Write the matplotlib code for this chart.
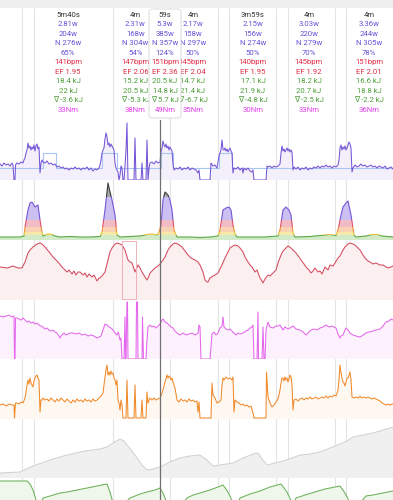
"""
Interval ride view: interval cards on top, stacked activity streams below
"""
import numpy as np
import matplotlib.pyplot as plt
from matplotlib.patches import FancyBboxPatch, Rectangle

plt.rcParams['font.family'] = ['Roboto', 'DejaVu Sans']

# time axis is in 20 s steps (3 per minute), whole ride = 0..393
T_END = 393

# interval cards (the 59s one is the raised popup under the cursor)
card_x = [68, 135.5, 165, 193, 253, 309, 369]
card_duration = ['5m40s', '4m', '59s', '4m', '3m59s', '4m', '4m']
card_wkg = ['2.81w', '2.31w', '5.3w', '2.17w', '2.15w', '3.03w', '3.36w']
card_watts = ['204w', '168w', '385w', '158w', '156w', '220w', '244w']
card_np = ['N 276w', 'N 304w', 'N 357w', 'N 297w', 'N 274w', 'N 279w', 'N 305w']
card_pct = ['65%', '54%', '124%', '50%', '50%', '70%', '78%']
card_hr = ['141bpm', '147bpm', '151bpm', '145bpm', '140bpm', '145bpm', '151bpm']
card_ef = ['EF 1.95', 'EF 2.06', 'EF 2.36', 'EF 2.04', 'EF 1.95', 'EF 1.92', 'EF 2.01']
card_work = ['18.4 kJ', '15.2 kJ', '20.5 kJ', '14.7 kJ', '17.1 kJ', '18.2 kJ', '16.6 kJ']
card_work2 = ['22 kJ', '20.5 kJ', '14.8 kJ', '21.4 kJ', '21.9 kJ', '20.7 kJ', '18.8 kJ']
card_delta = ['∇ -3.6 kJ', '∇ -5.3 kJ', '∇ 5.7 kJ', '∇ -6.7 kJ', '∇ -4.8 kJ', '∇ -2.5 kJ', '∇ -2.2 kJ']
card_torque = ['33Nm', '38Nm', '49Nm', '35Nm', '30Nm', '33Nm', '36Nm']
popup_idx = 2

interval_lines = [22, 34, 113, 170, 218, 229, 276, 288, 335, 346]
cursor_t = 160
selection = (122, 136)

power = [(0, 160), (2, 140), (4, 170), (6, 150), (8, 160), (10, 140), (12, 170), (13, 150), (14, 0), (15, 0),
         (15.5, 150), (17, 170), (19, 160), (21, 180), (23, 170), (24, 200), (25, 220), (26, 270), (27, 300),
         (28, 370), (29, 320), (30, 340), (31, 300), (32, 330), (33, 310), (34, 350), (35, 290), (36, 340),
         (37, 360), (38, 310), (39, 330), (40, 70), (41, 170), (42, 200), (43, 180), (45, 170), (47, 190),
         (49, 160), (51, 170), (53, 150), (55, 160), (57, 130), (59, 140), (61, 120), (63, 130), (65, 110),
         (67, 120), (69, 100), (71, 120), (73, 110), (75, 130), (77, 110), (79, 120), (81, 100), (83, 120),
         (85, 110), (87, 130), (89, 100), (91, 120), (93, 90), (95, 110), (97, 100), (99, 120), (100, 150),
         (101, 200), (102, 270), (103, 300), (104, 320), (105, 410), (106, 470), (107, 430), (108, 350),
         (109, 370), (110, 330), (111, 360), (112, 340), (113, 320), (114, 300), (115, 170), (116, 120),
         (117, 100), (118, 80), (119, 0), (120, 50), (121, 140), (122, 120), (123, 0), (124, 0), (125, 140),
         (126, 300), (127, 570), (128, 0), (134, 0), (135, 420), (136, 0), (141, 0), (142, 170), (143, 0),
         (146, 0), (147, 400), (148, 0), (149, 120), (150, 170), (152, 180), (154, 160), (156, 190), (158, 170),
         (160, 180), (161, 280), (162, 320), (163, 390), (164, 350), (165, 330), (166, 360), (167, 320),
         (168, 340), (169, 300), (170, 330), (171, 310), (172, 290), (173, 160), (174, 100), (176, 120),
         (178, 110), (180, 130), (182, 100), (184, 120), (186, 110), (188, 130), (190, 100), (192, 120),
         (194, 110), (196, 100), (198, 70), (199, 100), (200, 0), (210, 0), (211, 170), (213, 140), (215, 150),
         (217, 120), (219, 240), (220, 270), (221, 300), (222, 400), (223, 310), (224, 300), (225, 320),
         (226, 290), (227, 310), (228, 280), (229, 300), (230, 320), (231, 290), (232, 270), (233, 70),
         (234, 120), (236, 110), (238, 130), (240, 100), (242, 120), (243, 70), (244, 120), (246, 100),
         (248, 120), (250, 90), (252, 80), (253, 100), (254, 0), (266, 0), (267, 140), (268, 130), (270, 140),
         (272, 120), (274, 140), (276, 130), (278, 140), (280, 160), (281, 270), (282, 340), (283, 290),
         (284, 310), (285, 280), (286, 300), (287, 320), (288, 290), (289, 310), (290, 280), (291, 300),
         (292, 280), (293, 100), (294, 130), (296, 110), (298, 130), (300, 100), (302, 120), (304, 110),
         (306, 130), (308, 100), (310, 120), (312, 110), (314, 130), (316, 120), (318, 140), (320, 120),
         (322, 140), (324, 130), (326, 150), (328, 130), (330, 140), (332, 120), (334, 140), (336, 130),
         (338, 150), (339, 200), (340, 320), (341, 350), (342, 300), (343, 330), (344, 310), (345, 340),
         (346, 300), (347, 320), (348, 350), (349, 380), (350, 360), (351, 320), (352, 80), (353, 120),
         (355, 150), (357, 130), (359, 140), (361, 160), (363, 140), (365, 150), (367, 130), (369, 140),
         (371, 150), (373, 130), (375, 140), (377, 120), (379, 140), (381, 130), (383, 120), (385, 140),
         (387, 110), (389, 120), (391, 130), (393, 110)]

# planned target steps
target_t = [0, 43, 56, 102, 117, 161, 173, 219, 232, 393]
target_w = [120, 270, 120, 270, 120, 270, 120, 270, 120, 120]

# smoothed power, coloured by zone
zone_power = [(0, 30), (10, 30), (20, 30), (24, 40), (25, 130), (28, 300), (30, 370), (32, 380), (35, 330),
              (38, 350), (40, 200), (42, 80), (43, 40), (45, 50), (48, 60), (52, 55), (55, 40), (60, 30),
              (70, 35), (80, 30), (90, 30), (100, 35), (102, 80), (105, 300), (108, 570), (110, 480), (112, 400),
              (115, 250), (117, 50), (120, 30), (130, 35), (140, 40), (147, 55), (152, 60), (157, 50), (159, 80),
              (161, 150), (163, 400), (165, 480), (168, 450), (170, 400), (172, 300), (174, 100), (177, 30),
              (190, 30), (200, 25), (210, 30), (218, 40), (220, 100), (223, 300), (226, 320), (229, 330),
              (231, 300), (233, 150), (235, 60), (237, 30), (250, 30), (265, 30), (278, 40), (280, 100),
              (283, 300), (286, 330), (289, 300), (291, 250), (293, 70), (295, 30), (310, 35), (320, 45),
              (330, 55), (336, 45), (338, 100), (341, 250), (343, 330), (346, 370), (348, 390), (350, 300),
              (351, 250), (354, 50), (356, 30), (366, 40), (372, 55), (378, 55), (382, 40), (393, 30)]
zone_edges = [0, 50, 80, 130, 200, 430, 600]
zone_fill = ['#d3eac8', '#f7e7a8', '#f8d2b2', '#f2bcc6', '#cbc0f2', '#a8a8a8']
zone_line = ['#5aa845', '#e6c030', '#f0913a', '#e0506a', '#7656d8', '#3c3c3c']

hr = [(0, 126), (7, 124), (13, 128), (18, 124), (22, 124), (25, 136), (28, 154), (30, 160), (33, 166),
      (37, 172), (40, 174), (42, 172), (45, 166), (50, 154), (53, 146), (58, 136), (62, 126), (65, 120),
      (67, 116), (69, 120), (72, 112), (74, 118), (76, 110), (78, 116), (80, 116), (83, 110), (85, 114),
      (87, 106), (89, 112), (92, 106), (94, 110), (97, 98), (99, 104), (100, 104), (102, 108), (105, 116),
      (108, 140), (110, 156), (112, 164), (115, 172), (117, 174), (120, 172), (122, 170), (125, 160),
      (128, 140), (130, 136), (132, 134), (135, 116), (138, 130), (140, 124), (142, 116), (145, 106),
      (147, 100), (149, 108), (150, 114), (153, 120), (155, 124), (158, 128), (160, 132), (163, 140),
      (165, 146), (168, 160), (170, 166), (173, 172), (175, 174), (178, 172), (182, 166), (185, 158),
      (188, 150), (191, 144), (195, 140), (198, 136), (200, 130), (203, 116), (205, 100), (207, 96),
      (208, 96), (210, 104), (213, 108), (215, 110), (218, 114), (221, 126), (225, 144), (228, 156),
      (230, 164), (233, 168), (235, 170), (238, 168), (240, 164), (243, 156), (245, 146), (248, 136),
      (250, 130), (252, 126), (255, 116), (257, 120), (260, 104), (262, 98), (263, 94), (265, 102),
      (268, 110), (270, 108), (273, 114), (276, 120), (278, 134), (281, 150), (283, 158), (286, 164),
      (288, 168), (291, 164), (293, 160), (296, 154), (299, 146), (301, 140), (304, 132), (306, 126),
      (309, 120), (311, 114), (313, 118), (315, 124), (318, 116), (320, 118), (322, 112), (325, 126),
      (328, 120), (330, 130), (333, 128), (335, 134), (338, 144), (340, 148), (343, 160), (345, 166),
      (348, 172), (350, 174), (353, 172), (355, 170), (358, 164), (360, 160), (363, 150), (365, 144),
      (368, 138), (370, 136), (373, 132), (376, 134), (380, 130), (383, 130), (386, 126), (388, 124),
      (391, 126), (393, 128)]

torque = [(0, 43), (3, 42), (6, 43), (9, 44), (12, 42), (14, 43), (14.5, 0), (15, 0), (15.5, 41), (17, 41),
          (19, 40), (21, 39), (23, 41), (25, 39), (27, 37), (29, 38), (31, 36), (33, 37), (35, 35), (37, 36),
          (39, 34), (41, 33), (43, 32), (45, 30), (47, 31), (49, 29), (51, 28), (53, 29), (55, 27), (57, 26),
          (59, 23), (60, 21), (62, 24), (64, 26), (66, 24), (68, 25), (70, 26), (73, 26), (76, 25), (79, 26),
          (82, 24), (85, 25), (88, 23), (91, 24), (94, 23), (97, 21), (99, 22), (101, 23), (103, 29), (105, 35),
          (107, 34), (109, 32), (111, 31), (113, 29), (115, 26), (117, 24), (118, 27), (119, 24), (120, 19),
          (121, 21), (122, 0), (124, 0), (125, 42), (125.5, 0), (126, 0), (127, 57), (127.5, 57), (128, 0),
          (136, 0), (136.5, 57), (137.5, 57), (138, 0), (142, 0), (142.5, 42), (143.5, 0), (146, 0), (147, 19),
          (148, 32), (150, 34), (152, 32), (154, 33), (156, 31), (158, 33), (160, 35), (162, 39), (163, 40),
          (165, 37), (167, 36), (169, 34), (171, 32), (173, 31), (175, 28), (177, 26), (180, 24), (183, 26),
          (186, 24), (189, 25), (192, 26), (195, 24), (197, 25), (198, 26), (199, 34), (200, 32), (201, 0),
          (210, 0), (211, 12), (212, 25), (214, 27), (216, 24), (218, 26), (220, 31), (222, 33), (223, 42),
          (224, 32), (226, 30), (228, 29), (230, 30), (232, 28), (234, 26), (236, 24), (238, 26), (240, 25),
          (243, 26), (246, 28), (248, 29), (250, 31), (252, 32), (253, 34), (254, 0), (257, 0), (258, 47),
          (258.5, 0), (262, 0), (263, 32), (264, 0), (265, 0), (266, 29), (268, 37), (270, 32), (273, 31),
          (276, 33), (278, 33), (280, 34), (283, 29), (285, 32), (288, 30), (290, 31), (293, 33), (296, 30),
          (300, 29), (303, 27), (306, 24), (309, 27), (311, 29), (314, 30), (317, 29), (320, 31), (323, 32),
          (326, 34), (329, 32), (332, 33), (334, 32), (336, 31), (338, 25), (340, 21), (341, 23), (343, 24),
          (345, 29), (346, 31), (348, 29), (350, 26), (353, 24), (356, 23), (360, 22), (363, 24), (366, 26),
          (369, 27), (373, 28), (376, 29), (380, 30), (383, 33), (386, 37), (389, 38), (391, 40), (393, 39)]

speed = [(0, 14), (3, 15), (6, 13), (9, 15), (12, 14), (14, 14), (14.5, 1), (15.5, 16), (17, 16), (19, 15),
         (21, 17), (23, 16), (25, 21), (26, 27), (27, 34), (28, 39), (29, 35), (30, 41), (31, 36), (32, 34),
         (33, 32), (34, 38), (35, 41), (36, 43), (37, 44), (38, 41), (39, 39), (40, 7), (41, 19), (42, 19),
         (43, 21), (45, 19), (47, 20), (49, 18), (51, 21), (53, 19), (55, 17), (57, 20), (59, 18), (61, 21),
         (63, 19), (65, 17), (67, 20), (69, 18), (71, 16), (73, 19), (75, 17), (77, 20), (79, 18), (81, 19),
         (83, 17), (85, 20), (87, 18), (89, 19), (91, 17), (93, 20), (95, 18), (97, 19), (99, 21), (101, 23),
         (103, 26), (104, 34), (105, 42), (106, 49), (107, 54), (108, 44), (109, 47), (110, 44), (111, 48),
         (112, 45), (113, 46), (114, 41), (115, 39), (116, 34), (117, 39), (118, 19), (119, 16), (120, 9),
         (121, 19), (122, 14), (123, 1), (126, 1), (127, 39), (128, 1), (134, 1), (135, 34), (136, 1),
         (141, 1), (142, 19), (143, 1), (146, 1), (147, 27), (148, 16), (150, 21), (152, 19), (154, 21),
         (156, 19), (158, 20), (160, 21), (162, 26), (163, 29), (165, 37), (167, 44), (168, 41), (169, 43),
         (170, 42), (171, 39), (172, 41), (173, 37), (175, 31), (177, 19), (179, 17), (181, 20), (183, 18),
         (185, 19), (187, 17), (189, 20), (191, 18), (193, 19), (195, 17), (197, 18), (198, 7), (199, 17),
         (200, 1), (211, 1), (212, 36), (213, 24), (215, 21), (217, 16), (219, 17), (221, 19), (222, 34),
         (223, 41), (224, 39), (226, 42), (228, 40), (230, 41), (232, 39), (233, 42), (234, 7), (235, 19),
         (237, 17), (239, 16), (241, 14), (243, 15), (245, 13), (247, 14), (249, 12), (251, 13), (253, 6),
         (254, 1), (266, 1), (266.5, 47), (268, 22), (270, 16), (272, 12), (274, 14), (276, 17), (278, 20),
         (280, 29), (281, 36), (282, 41), (283, 41), (284, 38), (285, 42), (286, 39), (287, 41), (288, 37),
         (289, 40), (290, 44), (291, 42), (292, 34), (293, 9), (294, 19), (296, 20), (298, 18), (300, 20),
         (302, 21), (304, 19), (306, 21), (308, 20), (310, 22), (312, 20), (314, 21), (316, 22), (318, 20),
         (320, 21), (322, 22), (324, 21), (326, 23), (328, 21), (330, 23), (332, 22), (334, 24), (336, 23),
         (338, 29), (339, 39), (340, 54), (341, 46), (342, 41), (343, 37), (344, 36), (345, 33), (346, 37),
         (347, 41), (348, 41), (349, 44), (350, 47), (351, 39), (352, 22), (354, 21), (356, 22), (358, 21),
         (360, 23), (362, 21), (364, 22), (366, 21), (368, 22), (370, 21), (372, 20), (374, 21), (376, 20),
         (378, 19), (380, 18), (382, 16), (384, 15), (386, 14), (388, 15), (390, 14), (393, 15)]

altitude = [(0, 10), (20, 12), (33, 24), (50, 36), (67, 46), (85, 54), (100, 58), (107, 62), (113, 70),
            (120, 78), (124, 74), (127, 66), (135, 46), (142, 26), (147, 16), (153, 18), (160, 22), (170, 32),
            (180, 40), (190, 44), (200, 46), (207, 36), (213, 24), (220, 26), (233, 30), (243, 40), (253, 48),
            (258, 50), (262, 38), (267, 26), (275, 30), (283, 34), (292, 40), (300, 46), (310, 48), (320, 52),
            (330, 60), (340, 68), (347, 74), (353, 82), (363, 86), (373, 90), (383, 96), (393, 102)]

wbal = [(0, 19), (27, 19), (30, 16), (33, 10), (36, 0), (38, -5), (41, -5), (43, 2), (50, 4), (60, 7),
        (67, 8), (77, 10), (87, 12), (97, 14), (107, 16), (110, 8), (113, -3), (125, -3), (130, 2), (135, 4),
        (140, 6), (147, 8), (155, 10), (160, 12), (163, 7), (167, -3), (183, -3), (187, 2), (193, 5),
        (200, 7), (210, 10), (218, 13), (223, 15), (228, 8), (233, -3), (238, -3), (240, 2), (250, 6),
        (260, 9), (270, 13), (281, 16), (287, 8), (292, -3), (294, -3), (296, 2), (305, 5), (315, 8),
        (325, 11), (340, 14), (345, 7), (350, -3), (360, -3), (366, 4), (373, 5), (383, 7), (393, 9)]

FIG_H = 500.0
fig = plt.figure(figsize=(3.93, 5.0), dpi=100)


def panel(top, bottom, ylim):
    ax = fig.add_axes([0, 1 - bottom / FIG_H, 1, (bottom - top) / FIG_H])
    ax.set_xlim(0, T_END)
    ax.set_ylim(*ylim)
    ax.axis('off')
    for t in interval_lines:
        ax.axvline(t, color='#e4e4e4', lw=0.8, zorder=0.5)
    ax.axhline(ylim[0], color='#e6e6e6', lw=0.8, zorder=0.6)
    ax.axvline(cursor_t, color='#707070', lw=0.9, zorder=6)
    return ax


def stream(ax, samples, line_color, fill_color, base):
    t = [s[0] for s in samples]
    v = [s[1] for s in samples]
    ax.fill_between(t, base, v, color=fill_color, lw=0, zorder=1)
    ax.plot(t, v, color=line_color, lw=0.75, zorder=3)


# header with interval cards
axh = fig.add_axes([0, 1 - 120 / FIG_H, 1, 120 / FIG_H])
axh.set_xlim(0, T_END)
axh.set_ylim(120, 0)
axh.axis('off')
axh.axhspan(0, 8, color='#efefef', lw=0)
axh.vlines(interval_lines, 8, 120, color='#e4e4e4', lw=0.8)
axh.axhline(120, color='#e6e6e6', lw=0.8)

rows = [card_duration, card_wkg, card_watts, card_np, card_pct, card_hr, card_ef,
        card_work, card_work2, card_delta, card_torque]
row_colors = ['#333333', '#6b4fd6', '#6b4fd6', '#6b4fd6', '#6b4fd6', '#e03048', '#e03048',
              '#4f9e3a', '#4f9e3a', '#4f9e3a', '#e040ec']

px = card_x[popup_idx]
axh.add_patch(FancyBboxPatch((px - 16, 9), 32, 109, boxstyle='round,pad=0,rounding_size=3',
                             fc='white', ec='#d6d6d6', lw=0.6, zorder=4))
for i, x in enumerate(card_x):
    z = 5 if i == popup_idx else 2
    for r, (row, col) in enumerate(zip(rows, row_colors)):
        axh.text(x, 15 + r * 9.45, row[i], color=col, fontsize=5.6,
                 ha='center', va='center', zorder=z)

# power
ax = panel(120, 180, (0, 600))
stream(ax, power, '#7556d6', '#f3f0fb', 0)
ax.step(target_t, target_w, where='post', color='#a9c6f2', lw=0.8, zorder=2)

# zones
ax = panel(180, 240, (0, 600))
zt = [s[0] for s in zone_power]
zv = [s[1] for s in zone_power]
area = ax.fill_between(zt, 0, zv, color='none', lw=0)
area_path = area.get_paths()[0]
for lo, hi, fc, lc in zip(zone_edges[:-1], zone_edges[1:], zone_fill, zone_line):
    band = ax.axhspan(lo, hi, color=fc, lw=0, zorder=1)
    band.set_clip_path(area_path, ax.transData)
    ln, = ax.plot(zt, zv, color=lc, lw=0.8, zorder=3)
    ln.set_clip_path(Rectangle((0, lo), T_END, hi - lo, transform=ax.transData))

# heart rate
ax = panel(240, 300, (60, 180))
stream(ax, hr, '#d44a5e', '#fbeff0', 60)
ax.add_patch(Rectangle((selection[0], 0.02), selection[1] - selection[0], 0.96,
                       transform=ax.get_xaxis_transform(), fill=False, ec='#f0b2bb', lw=0.7, zorder=4))

# torque
ax = panel(300, 359, (0, 59))
stream(ax, torque, '#e466ec', '#fdf1fd', 0)

# speed
ax = panel(359, 419, (0, 60))
stream(ax, speed, '#f08a2c', '#fff8f1', 0)

# altitude
ax = panel(419, 478, (0, 118))
stream(ax, altitude, '#d2d2d2', '#f0f0f0', 0)

# W' balance
ax = panel(478, 500, (0, 22))
stream(ax, wbal, '#6cb05a', '#eef7ea', -10)

fig.savefig('out.png', dpi=100)
